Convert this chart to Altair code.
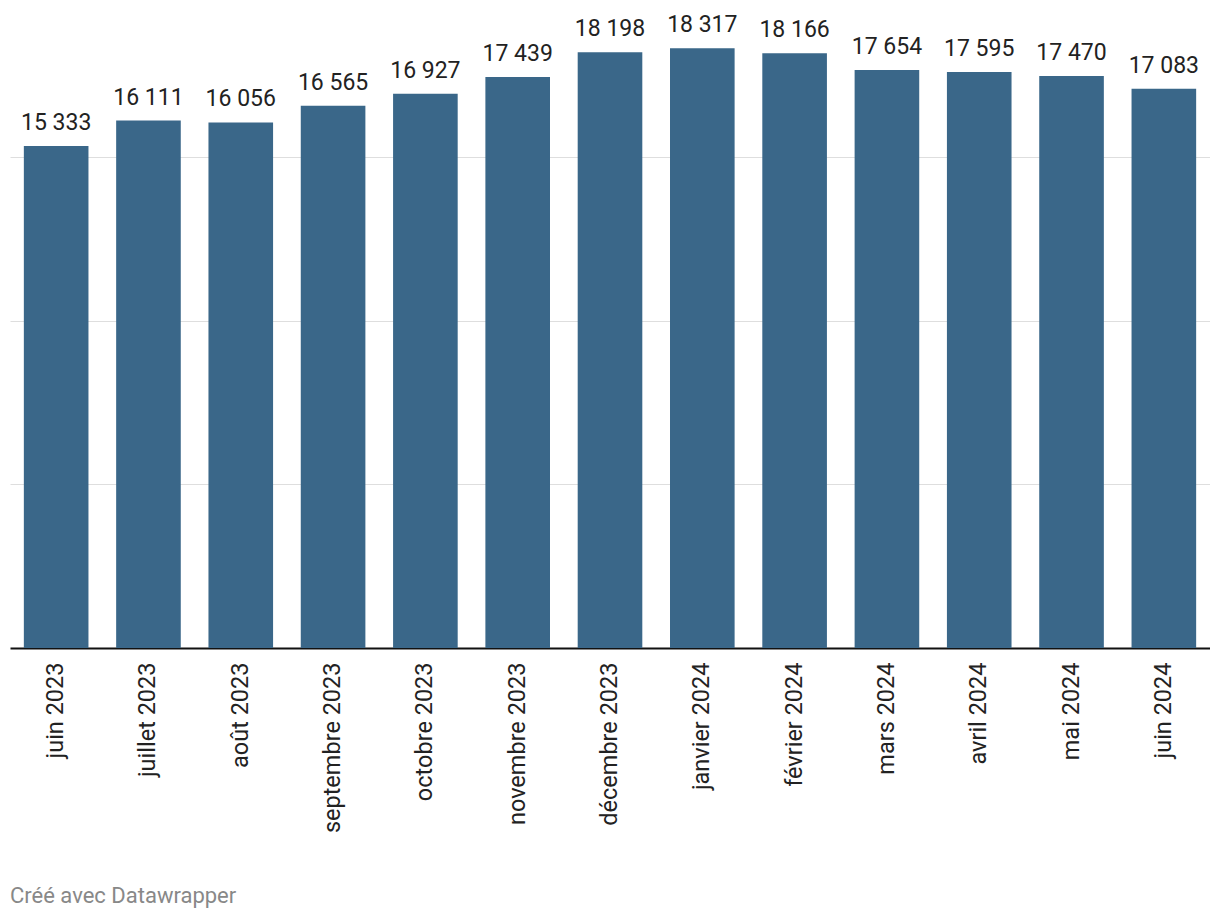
import altair as alt
import pandas as pd

months = ["juin 2023", "juillet 2023", "août 2023", "septembre 2023", "octobre 2023",
          "novembre 2023", "décembre 2023", "janvier 2024", "février 2024", "mars 2024",
          "avril 2024", "mai 2024", "juin 2024"]
values = [15333, 16111, 16056, 16565, 16927, 17439, 18198, 18317, 18166, 17654, 17595, 17470, 17083]
labels = ["15 333", "16 111", "16 056", "16 565", "16 927", "17 439", "18 198", "18 317",
          "18 166", "17 654", "17 595", "17 470", "17 083"]
grid_ticks = [5000, 10000, 15000]

df = pd.DataFrame({"mois": months, "valeur": values, "label": labels})

FONT = "Roboto"

x = alt.X("mois:N", sort=months, title=None,
          scale=alt.Scale(paddingInner=0.3, paddingOuter=0.15),
          axis=alt.Axis(labelAngle=-90, labelAlign="right", labelBaseline="middle",
                        labelFontSize=23.5, labelColor="#222222", labelFont=FONT,
                        labelPadding=14, ticks=False, domain=True,
                        domainColor="#111111", domainWidth=2, grid=False))
y = alt.Y("valeur:Q", title=None,
          scale=alt.Scale(domain=[0, 19000], nice=False, zero=True),
          axis=alt.Axis(values=grid_ticks, labels=False, ticks=False, domain=False,
                        grid=True, gridColor="#dedede", gridWidth=1))

bars = alt.Chart(df).mark_bar(color="#3a6789").encode(x=x, y=y)
text = alt.Chart(df).mark_text(font=FONT, fontSize=23, color="#222222",
                               baseline="alphabetic", dy=-16).encode(
    x=alt.X("mois:N", sort=months), y="valeur:Q", text="label:N")

chart = alt.layer(bars, text).properties(
    width=1200, height=622,
    autosize=alt.AutoSizeParams(type="none"),
    padding={"left": 2, "top": 18, "right": 0, "bottom": 262},
    title=alt.TitleParams("Créé avec Datawrapper", orient="bottom", anchor="start",
                          frame="group", font=FONT, fontSize=22, fontWeight="normal",
                          color="#888888", offset=53, dx=0),
).configure(background="white").configure_view(stroke=None)

chart.save("out.html", embed_options={"renderer": "svg", "actions": False})
